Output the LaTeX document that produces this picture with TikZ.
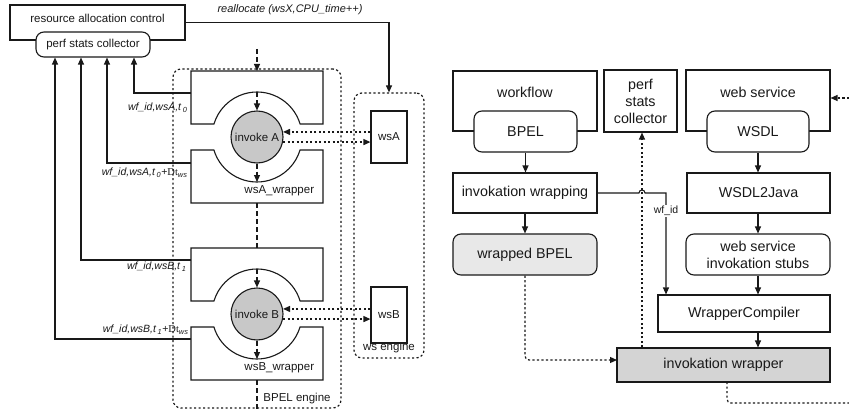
\documentclass[tikz,border=0pt]{standalone}
\usepackage{fontspec}
\setmainfont{Liberation Sans}
\newfontfamily\serD{Liberation Serif}
\usetikzlibrary{arrows.meta}
\definecolor{ink}{RGB}{25,25,25}
\definecolor{cgray}{RGB}{200,200,200}
\definecolor{dgray}{RGB}{212,212,212}
\definecolor{lgray}{RGB}{232,232,232}
\newcommand{\sbs}[1]{\,\textsubscript{#1}}
\begin{document}
\begin{tikzpicture}[x=1pt,y=-1pt, line width=1.1pt, draw=ink, text=ink,
  box/.style={draw=ink, fill=white, inner sep=0pt, line width=1.1pt},
  rbox/.style={box, rounded corners=8pt},
  arr/.style={-{Triangle[length=7pt,width=6pt]}},
  dotl/.style={line width=1.2pt, dash pattern=on 2.2pt off 2.3pt},
  dashl/.style={dash pattern=on 5pt off 3pt},
  fl/.style={font=\fontsize{11.5}{13.5}\selectfont},
  fr/.style={font=\fontsize{14.3}{17}\selectfont},
  lab/.style={font=\fontsize{10.5}{12}\selectfont\itshape, inner sep=0pt},
]
\useasboundingbox (0,0) rectangle (849,412);

% engines
\node[draw=ink, dotl, rounded corners=8pt, minimum width=168pt, minimum height=339pt, inner sep=0pt] (bpe) at (257,238.5) {};
\node[draw=ink, dotl, rounded corners=8pt, minimum width=70pt, minimum height=265pt, inner sep=0pt] (wse) at (389,225.5) {};
\node[fl] (bpelab) at (297,399) {BPEL engine};
\node[fl] (wselab) at (389,347.5) {ws engine};

% resource allocation control
\node[box, minimum width=175pt, minimum height=35pt] (rac) at (97.5,22.5) {};
\node[fl] (ract) at (97.5,18) {resource allocation control};
\node[rbox, fl, minimum width=114pt, minimum height=25pt] (psc) at (93,44.5) {perf stats collector};
\draw[arr] (rac.east) -| (wse.north);
\node[lab, font=\fontsize{11}{13}\selectfont\itshape] (realloc) at (290,10) {reallocate (wsX,CPU\_time++)};

% wrappers and invokes
\foreach \c/\n in {137/A, 314/B} {
  \draw[fill=white] (191,\c-66) -- (323,\c-66) -- (323,\c-13) -- (300.1,\c-13)
     arc[start angle=-16.8, end angle=-163.2, radius=45] -- (191,\c-13) -- cycle;
  \draw[fill=white] (191,\c+13) -- (213.9,\c+13)
     arc[start angle=163.2, end angle=16.8, radius=45] -- (323,\c+13) -- (323,\c+66) -- (191,\c+66) -- cycle;
  \node[circle, draw=ink, fill=cgray, fl, minimum size=52pt, inner sep=0pt] (inv\n) at (257,\c) {invoke \n};
  \node[fl, anchor=east] (wl\n) at (318,\c+54) {ws\n\_wrapper};
  \coordinate (at\n) at (257,\c-45);
  \coordinate (ab\n) at (257,\c+45);
  \draw[dashl, arr] (at\n) -- (inv\n.north);
  \draw[dashl, arr] (inv\n.south) -- (ab\n);
}
\coordinate (topin) at (257,49);
\coordinate (wAtop) at (257,71);
\coordinate (wAbot) at (257,203);
\coordinate (wBtop) at (257,248);
\coordinate (wBbot) at (257,380);
\draw[dashl, arr] (topin) -- (wAtop);
\draw[dashl] (wAbot) -- (wBtop);
\draw[dashl] (wBbot) -- (bpe.south -| wBbot);

% ws boxes
\node[box, fl, minimum width=36pt, minimum height=52pt] (wsA) at (389,137) {wsA};
\node[box, fl, minimum width=36pt, minimum height=56pt] (wsB) at (389,315) {wsB};
\draw[dotl, arr] (invA.11 -| wsA.west) -- (invA.11);
\draw[dotl, arr] (invA.-11) -- (invA.-11 -| wsA.west);
\draw[dotl, arr] (invB.11 -| wsB.west) -- (invB.11);
\draw[dotl, arr] (invB.-11) -- (invB.-11 -| wsB.west);

% stats lines
\coordinate (eA1) at (191,93);
\coordinate (eA2) at (191,163);
\coordinate (eB1) at (191,260);
\coordinate (eB2) at (191,339);
\coordinate (x1) at (55,0);
\coordinate (x2) at (81,0);
\coordinate (x3) at (107,0);
\coordinate (x4) at (134,0);
\draw[arr] (eA1) -| (x4 |- psc.south);
\draw[arr] (eA2) -| (x3 |- psc.south);
\draw[arr] (eB1) -| (x2 |- psc.south);
\draw[arr] (eB2) -| (x1 |- psc.south);
\node[lab, anchor=east] (lA1) at (188,108) {wf\_id,wsA,t\sbs{0}};
\node[lab, anchor=east] (lA2) at (188,173) {wf\_id,wsA,t\sbs{0}{\upshape +}{\serD\upshape Dt}\textsubscript{ws}};
\node[lab, anchor=east] (lB1) at (187,267) {wf\_id,wsB,t\sbs{1}};
\node[lab, anchor=east] (lB2) at (189,330) {wf\_id,wsB,t\sbs{1}{\upshape +}{\serD\upshape Dt}\textsubscript{ws}};

% right side
\node[box, minimum width=144pt, minimum height=60pt] (wf) at (525,101) {};
\node[fr] (wft) at (525,92) {workflow};
\node[rbox, fr, minimum width=103pt, minimum height=41pt] (bpel) at (525.5,131.5) {BPEL};
\node[box, fr, align=center, minimum width=73pt, minimum height=62pt] (psc2) at (640.5,101) {perf\\stats\\collector};
\node[box, minimum width=144pt, minimum height=61pt] (ws) at (758,100.5) {};
\node[fr] (wst) at (758,92) {web service};
\node[rbox, fr, minimum width=102pt, minimum height=41pt] (wsdl) at (758,131.5) {WSDL};
\node[box, fr, minimum width=144pt, minimum height=40pt] (iw) at (525,193) {invokation wrapping};
\node[box, fr, minimum width=143pt, minimum height=40pt] (w2j) at (758.5,193) {WSDL2Java};
\node[rbox, fill=lgray, fr, minimum width=144pt, minimum height=41pt] (wbpel) at (525,254.5) {wrapped BPEL};
\node[rbox, fr, align=center, minimum width=144pt, minimum height=41pt] (stubs) at (758,254.5) {web service\\invokation stubs};
\node[box, fr, minimum width=172pt, minimum height=37pt] (wc) at (744,313.5) {WrapperCompiler};
\node[box, fill=dgray, fr, minimum width=213pt, minimum height=34pt] (iwr) at (723.5,365) {invokation wrapper};

\draw[arr] (bpel.south) -- (bpel.south |- iw.north);
\draw[arr] (iw.south) -- (wbpel.north);
\draw[arr] (wsdl.south) -- (wsdl.south |- w2j.north);
\draw[arr] (w2j.south -| wsdl.south) -- (wsdl.south |- stubs.north);
\draw[arr] (stubs.south -| wsdl.south) -- (wsdl.south |- wc.north);
\draw[arr] (wc.south -| wsdl.south) -- (wsdl.south |- iwr.north);

\coordinate (hop) at (639,193);
\coordinate (wfx) at (666,193);
\draw[arr] (iw.east) -- (hop) arc[start angle=180, end angle=360, radius=3] -- (wfx) -- (wfx |- wc.north);
\node[fill=white, font=\fontsize{10.5}{12}\selectfont, inner sep=1.5pt] (wfid) at (666,211) {wf\_id};

\coordinate (px) at (642,0);
\draw[dotl, arr] (px |- iwr.north) -- (px |- psc2.south);
\coordinate (iwIn) at (617,360);
\draw[dotl, arr, rounded corners=4pt] (wbpel.south) |- (iwIn);
\coordinate (outB) at (727,382);
\coordinate (outR) at (849,403);
\draw[dotl, rounded corners=4pt] (outB) |- (outR);
\coordinate (inR) at (849,98);
\draw[dotl, arr] (inR) -- (inR -| ws.east);
\end{tikzpicture}
\end{document}
